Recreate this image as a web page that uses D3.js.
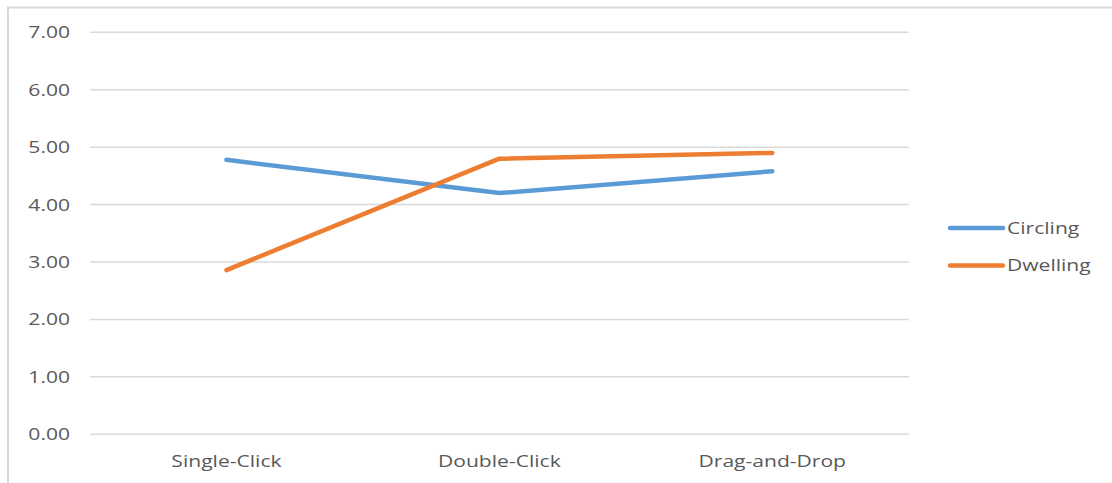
<!DOCTYPE html>
<html>
<head>
<meta charset="utf-8">
<script src="https://cdn.jsdelivr.net/npm/d3@7"></script>
<style>
  html, body { margin: 0; padding: 0; background: #fff; }
  svg { display: block; }
  text { font-family: "Open Sans", sans-serif; fill: #595959; }
</style>
</head>
<body>
<svg id="chart" width="1112" height="483"></svg>
<script>
// Interaction techniques on the category axis
const categories = ["Single-Click", "Double-Click", "Drag-and-Drop"];
// Mean scores per technique for each selection method
const circling = [4.78, 4.20, 4.58];
const dwelling = [2.86, 4.80, 4.90];
const seriesNames = ["Circling", "Dwelling"];
const seriesColors = ["#5b9bd5", "#ed7d31"];
// Value axis ticks
const yTicks = [0, 1, 2, 3, 4, 5, 6, 7];

const series = [
  { name: seriesNames[0], values: circling, color: seriesColors[0] },
  { name: seriesNames[1], values: dwelling, color: seriesColors[1] }
];

const svg = d3.select("#chart");
const W = 1112, H = 483;
const plot = { left: 90, right: 908.7, top: 32.3, bottom: 434.3 };
const textStretch = 1.24;

// Chart frame
svg.append("rect")
  .attr("x", 8).attr("y", 7.5)
  .attr("width", W + 10).attr("height", H + 10)
  .attr("fill", "none")
  .attr("stroke", "#d9d9d9")
  .attr("stroke-width", 2);

const x = d3.scaleBand()
  .domain(categories)
  .range([plot.left, plot.right]);

const y = d3.scaleLinear()
  .domain([0, 7])
  .range([plot.bottom, plot.top]);

// Horizontal gridlines
svg.append("g")
  .selectAll("line")
  .data(yTicks)
  .join("line")
  .attr("x1", plot.left).attr("x2", plot.right)
  .attr("y1", d => y(d)).attr("y2", d => y(d))
  .attr("stroke", "#d9d9d9")
  .attr("stroke-width", 1.5);

// Y tick labels
svg.append("g")
  .selectAll("text")
  .data(yTicks)
  .join("text")
  .attr("transform", d => `translate(70,${y(d)}) scale(${textStretch},1)`)
  .attr("text-anchor", "end")
  .attr("dy", "0.35em")
  .style("font-size", "17px")
  .text(d => d3.format(".2f")(d));

// X category labels
svg.append("g")
  .selectAll("text")
  .data(categories)
  .join("text")
  .attr("transform", d => `translate(${x(d) + x.bandwidth() / 2},467) scale(${textStretch},1)`)
  .attr("text-anchor", "middle")
  .style("font-size", "17px")
  .text(d => d);

// Series lines
const line = d3.line()
  .x((d, i) => x(categories[i]) + x.bandwidth() / 2)
  .y(d => y(d));

svg.append("g")
  .selectAll("path")
  .data(series)
  .join("path")
  .attr("d", d => line(d.values))
  .attr("fill", "none")
  .attr("stroke", d => d.color)
  .attr("stroke-width", 4.5)
  .attr("stroke-linecap", "round")
  .attr("stroke-linejoin", "round");

// Legend
const legendY = d3.scalePoint().domain(seriesNames).range([228, 265.5]);
const legend = svg.append("g")
  .selectAll("g")
  .data(series)
  .join("g")
  .attr("transform", d => `translate(0,${legendY(d.name)})`);

legend.append("line")
  .attr("x1", 950).attr("x2", 1003)
  .attr("y1", 0).attr("y2", 0)
  .attr("stroke", d => d.color)
  .attr("stroke-width", 4.5)
  .attr("stroke-linecap", "round");

legend.append("text")
  .attr("transform", `translate(1007,0) scale(${textStretch},1)`)
  .attr("dy", "0.35em")
  .style("font-size", "17px")
  .text(d => d.name);
</script>
</body>
</html>
